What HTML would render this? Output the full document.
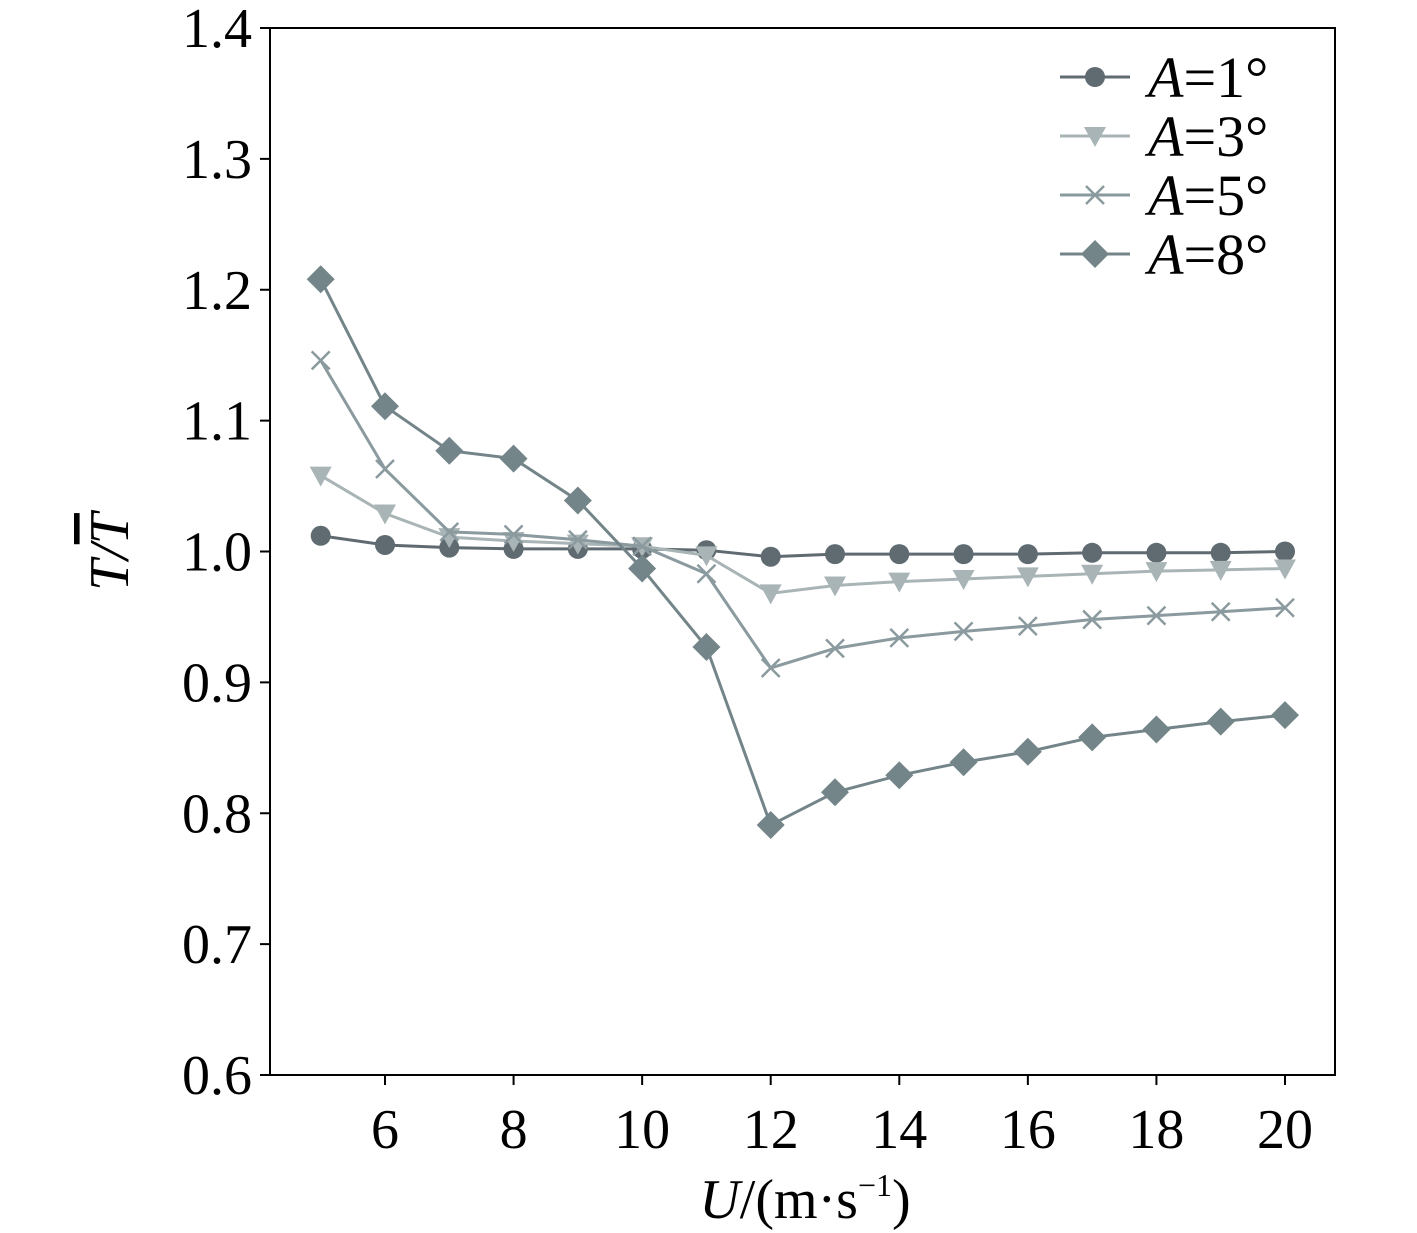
<!DOCTYPE html>
<html><head><meta charset="utf-8"><style>
body{margin:0;background:#fff}
svg{display:block}
text{font-family:"Liberation Serif","Times New Roman",Times,serif}
</style></head><body>
<svg id="chart" width="1417" height="1233" xmlns="http://www.w3.org/2000/svg" font-family="Liberation Serif, Times New Roman, serif">
<g id="axes"></g>
<g id="series"></g>
<g id="legend"></g>
</svg>
<script>
const xValues=[5,6,7,8,9,10,11,12,13,14,15,16,17,18,19,20];
const seriesA1=[1.012,1.005,1.003,1.002,1.002,1.002,1.001,0.996,0.998,0.998,0.998,0.998,0.999,0.999,0.999,1.000];
const seriesA3=[1.058,1.029,1.011,1.008,1.006,1.004,0.997,0.968,0.974,0.977,0.979,0.981,0.983,0.985,0.986,0.987];
const seriesA5=[1.146,1.063,1.015,1.013,1.009,1.004,0.983,0.911,0.926,0.934,0.939,0.943,0.948,0.951,0.954,0.957];
const seriesA8=[1.208,1.111,1.077,1.071,1.039,0.987,0.927,0.791,0.816,0.829,0.839,0.847,0.858,0.864,0.870,0.875];
const xTicks=[6,8,10,12,14,16,18,20];
const yTicks=[0.6,0.7,0.8,0.9,1.0,1.1,1.2,1.3,1.4];
const legendLabels=["1°","3°","5°","8°"];

const NS="http://www.w3.org/2000/svg";
const L=270,R=1335,T=28,B=1075;
const xs=v=>385+(v-6)*(1285-385)/14;
const ys=v=>B-(v-0.6)*(B-T)/0.8;
function mk(tag,attrs,parent){const e=document.createElementNS(NS,tag);for(const k in attrs)e.setAttribute(k,attrs[k]);parent.appendChild(e);return e;}
const axes=document.getElementById('axes');
let frame=mk('rect',{x:L,y:T,width:R-L,height:B-T,fill:'none',stroke:'#000','stroke-width':2},axes);


yTicks.forEach(v=>{
  let t=mk('line',{x1:L-10,x2:L,y1:ys(v),y2:ys(v),stroke:'#000','stroke-width':2},axes);
  
  
  let tx=mk('text',{x:L-18,y:ys(v)+19,'text-anchor':'end','font-size':56},axes);
  tx.textContent=v.toFixed(1);
  
  
});
xTicks.forEach(v=>{
  let t=mk('line',{x1:xs(v),x2:xs(v),y1:B,y2:B+10,stroke:'#000','stroke-width':2},axes);
  
  
  let tx=mk('text',{x:xs(v),y:B+73,'text-anchor':'middle','font-size':56},axes);
  tx.textContent=v;
  
  
});
let xt=mk('text',{x:805,y:1218,'text-anchor':'middle','font-size':56},axes);
xt.innerHTML='<tspan font-style="italic">U</tspan>/(m·s<tspan font-size="32" dy="-22">−1</tspan><tspan dy="22">)</tspan>';


let yt=mk('text',{x:0,y:0,'text-anchor':'middle','font-size':56,'font-style':'italic',transform:'translate(128,552) rotate(-90)'},axes);
yt.innerHTML='T/<tspan text-decoration="overline">T</tspan>';



const defs=[
 {data:seriesA1,color:'#5f6b70',m:'circle',name:'series-a1'},
 {data:seriesA3,color:'#a9b4b6',m:'tri',name:'series-a3'},
 {data:seriesA5,color:'#8a9a9e',m:'x',name:'series-a5'},
 {data:seriesA8,color:'#748589',m:'diamond',name:'series-a8'}];
function marker(m,x,y,c,g){
  let e;
  if(m==='circle')e=mk('circle',{cx:x,cy:y,r:10,fill:c},g);
  else if(m==='tri')e=mk('polygon',{points:`${x-11},${y-9} ${x+11},${y-9} ${x},${y+11}`,fill:c},g);
  else if(m==='x')e=mk('path',{d:`M${x-9} ${y-9}L${x+9} ${y+9}M${x-9} ${y+9}L${x+9} ${y-9}`,stroke:c,'stroke-width':2.5,fill:'none'},g);
  else e=mk('polygon',{points:`${x},${y-14} ${x+14},${y} ${x},${y+14} ${x-14},${y}`,fill:c},g);
  return e;
}
const sg=document.getElementById('series');
defs.forEach(d=>{
  const g=mk('g',{},sg);
  
  
  const pl=mk('polyline',{points:d.data.map((v,i)=>xs(xValues[i])+','+ys(v)).join(' '),fill:'none',stroke:d.color,'stroke-width':3},g);
  
  
  d.data.forEach((v,i)=>{
    const e=marker(d.m,xs(xValues[i]),ys(v),d.color,g);
    
    
  });
});
const lg=document.getElementById('legend');
defs.forEach((d,i)=>{
  const y=77+i*59;
  const g=mk('g',{},lg);
  
  
  mk('line',{x1:1060,x2:1130,y1:y,y2:y,stroke:d.color,'stroke-width':3},g);
  marker(d.m,1095,y,d.color,g);
  const t=mk('text',{x:1148,y:y+20,'font-size':58},g);
  t.innerHTML='<tspan font-style="italic">A</tspan>='+legendLabels[i];
});
</script>
</body></html>
